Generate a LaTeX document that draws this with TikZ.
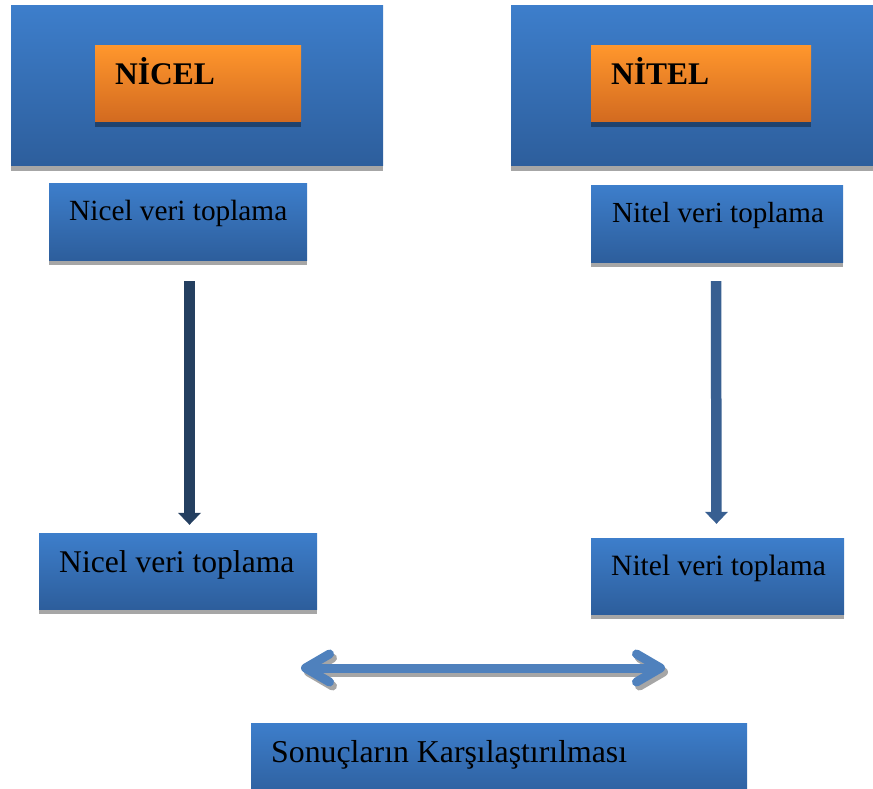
\documentclass[tikz,border=0pt]{standalone}
\usepackage{fontspec}
\setmainfont{Liberation Serif}
\usetikzlibrary{arrows.meta, positioning, shadows, calc}
\definecolor{boxTop}{RGB}{61,126,203}
\definecolor{boxBot}{RGB}{45,94,156}
\definecolor{tagTop}{RGB}{255,150,44}
\definecolor{tagBot}{RGB}{210,106,32}
\definecolor{arrowDark}{RGB}{36,63,96}
\definecolor{arrowMid}{RGB}{56,95,145}
\definecolor{arrowLight}{RGB}{79,129,189}
\definecolor{shadowGray}{RGB}{166,166,166}

\begin{document}
\begin{tikzpicture}[x=1pt, y=-1pt,
    boxshadow/.style={drop shadow={shadow xshift=0pt, shadow yshift=-5pt, opacity=.35, fill=black}},
    bluebox/.style={inner sep=0pt, top color=boxTop, bottom color=boxBot, boxshadow},
    tagbox/.style={inner sep=0pt, top color=tagTop, bottom color=tagBot, boxshadow},
    tagtext/.style={anchor=base west, inner sep=0pt, font=\fontsize{31.5}{38}\selectfont\bfseries},
    boxtext/.style={anchor=base west, inner sep=0pt},
    downarrow/.style={line width=10.5pt, -{Triangle[length=12pt, width=23pt, line width=0pt]}},
    cmparrow/.style={line width=9pt, line cap=round, {Straight Barb[length=24pt, width=28pt, round]}-{Straight Barb[length=24pt, width=28pt, round]}}]
    \useasboundingbox (0,0) rectangle (873,789);

    % upper blocks
    \node[bluebox, minimum width=372pt, minimum height=160pt] (nicelHead) at (197,86) {};
    \node[bluebox, minimum width=369pt, minimum height=160pt] (nitelHead) at (695.5,86) {};
    \node[tagbox, minimum width=206pt, minimum height=76pt] (nicelTag) at (198,84) {};
    \node[tagbox, minimum width=220pt, minimum height=76pt] (nitelTag) at (701,84) {};
    \node[tagtext] (nicelName) at (115,85) {NİCEL};
    \node[tagtext] (nitelName) at (611,85) {NİTEL};

    \node[bluebox, minimum width=258pt, minimum height=77pt] (nicelTop) at (178,221.5) {};
    \node[bluebox, minimum width=252pt, minimum height=77pt] (nitelTop) at (717,223.5) {};
    \node[boxtext, font=\fontsize{29.3}{35}\selectfont] (nicelTopText) at (69,220) {Nicel veri toplama};
    \node[boxtext, font=\fontsize{29.1}{35}\selectfont] (nitelTopText) at (612,222) {Nitel veri toplama};

    % lower blocks
    \node[bluebox, minimum width=278pt, minimum height=76pt] (nicelBot) at (178,571) {};
    \node[bluebox, minimum width=253pt, minimum height=76pt] (nitelBot) at (717.5,576) {};
    \node[boxtext, font=\fontsize{31.6}{38}\selectfont] (nicelBotText) at (59,572) {Nicel veri toplama};
    \node[boxtext, font=\fontsize{29.5}{36}\selectfont] (nitelBotText) at (611,575) {Nitel veri toplama};

    \node[bluebox, minimum width=496pt, minimum height=77pt] (compare) at (499,761.5) {};
    \node[boxtext, font=\fontsize{31.8}{38}\selectfont] (compareText) at (271,762) {Sonuçların Karşılaştırılması};

    % arrows
    \coordinate (nicelFrom) at ($(nicelTop.south)+(11.5,21)$);
    \coordinate (nicelTo) at ($(nicelBot.north)+(11.5,-8)$);
    \coordinate (nitelFrom) at ($(nitelTop.south)+(-1,19)$);
    \coordinate (nitelTo) at ($(nitelBot.north)+(-1,-14)$);
    \draw[downarrow, arrowDark] (nicelFrom) -- (nicelTo);
    \draw[downarrow, arrowMid] (nitelFrom) -- (nitelTo);

    \coordinate (cmpLeft) at (301,668);
    \coordinate (cmpRight) at (665,668);
    \draw[cmparrow, shadowGray, transform canvas={shift={(3pt,-4pt)}}] (cmpLeft) -- (cmpRight);
    \draw[cmparrow, arrowLight] (cmpLeft) -- (cmpRight);
\end{tikzpicture}
\end{document}
